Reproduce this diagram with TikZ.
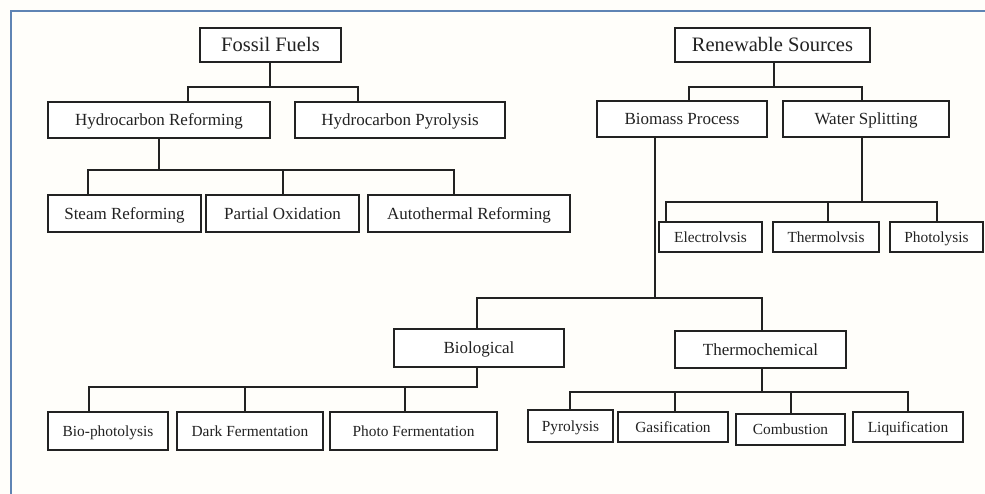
\documentclass[tikz,border=0pt]{standalone}
\usepackage{fontspec}
\setmainfont{Liberation Serif}
\definecolor{bordercol}{HTML}{5F84B4}
\definecolor{bgcol}{HTML}{FFFEFA}
\definecolor{inkcol}{HTML}{222222}
\tikzset{
  box/.style={draw=inkcol, line width=1.6pt, fill=white, inner sep=0pt, text=inkcol, text depth=0pt},
  top/.style={box, font=\fontsize{20.5}{22}\selectfont, text height=13.4pt},
  mid/.style={box, font=\fontsize{17}{19}\selectfont, text height=11.2pt},
  leaf/.style={box, font=\fontsize{15.4}{17}\selectfont, text height=10.1pt},
  conn/.style={draw=inkcol, line width=1.8pt}
}
\begin{document}
\begin{tikzpicture}[x=1pt,y=-1pt]
\useasboundingbox (0,0) rectangle (985,494);
\fill[bgcol] (0,0) rectangle (985,494);
\draw[bordercol, line width=2pt] (11,494) -- (11,11) -- (985,11);

% Fossil side
\node[top, minimum width=141pt, minimum height=34pt] (ff) at (270.5,45) {Fossil Fuels};
\node[mid, minimum width=222pt, minimum height=36pt] (hr) at (159,120) {Hydrocarbon Reforming};
\node[mid, minimum width=210pt, minimum height=36pt] (hp) at (400,120) {Hydrocarbon Pyrolysis};
\node[mid, minimum width=153pt, minimum height=37pt] (sr) at (124.5,213.5) {Steam Reforming};
\node[mid, minimum width=153pt, minimum height=37pt] (po) at (282.5,213.5) {Partial Oxidation};
\node[mid, minimum width=202pt, minimum height=37pt] (ar) at (469,213.5) {Autothermal Reforming};

% Renewable side
\node[top, minimum width=195pt, minimum height=34pt] (rs) at (772.5,45) {Renewable Sources};
\node[mid, minimum width=170pt, minimum height=36pt] (bp) at (682,119) {Biomass Process};
\node[mid, minimum width=166pt, minimum height=36pt] (ws) at (866,119) {Water Splitting};
\node[leaf, minimum width=103pt, minimum height=30pt] (el) at (710.5,237) {Electrolvsis};
\node[leaf, minimum width=106pt, minimum height=30pt] (th) at (826,237) {Thermolvsis};
\node[leaf, minimum width=93pt, minimum height=30pt] (ph) at (936.5,237) {Photolysis};
\node[mid, minimum width=170pt, minimum height=38pt] (bl) at (479,348) {Biological};
\node[mid, minimum width=171pt, minimum height=37pt] (tc) at (760.5,349.5) {Thermochemical};
\node[leaf, minimum width=120pt, minimum height=38pt] (bph) at (108,431) {Bio-photolysis};
\node[leaf, minimum width=146pt, minimum height=38pt] (df) at (250,431) {Dark Fermentation};
\node[leaf, minimum width=167pt, minimum height=38pt] (pf) at (413.5,431) {Photo Fermentation};
\node[leaf, minimum width=85pt, minimum height=32pt] (py) at (570.5,426) {Pyrolysis};
\node[leaf, minimum width=110pt, minimum height=30pt] (ga) at (673,427) {Gasification};
\node[leaf, minimum width=109pt, minimum height=31pt] (co) at (790.5,429.5) {Combustion};
\node[leaf, minimum width=110pt, minimum height=30pt] (lq) at (908,427) {Liquification};

% Connectors: fossil
\draw[conn] ([xshift=-0.5pt]ff.south) -- ++(0,24) -| ([xshift=29pt]hr.north);
\draw[conn] ([xshift=-0.5pt]ff.south) -- ++(0,24) -| ([xshift=-42pt]hp.north);
\draw[conn] (hr.south) -- ++(0,31) -| ([xshift=-36.5pt]sr.north);
\draw[conn] (hr.south) -- ++(0,31) -| ([xshift=0.5pt]po.north);
\draw[conn] (hr.south) -- ++(0,31) -| ([xshift=-15pt]ar.north);

% Connectors: renewable
\draw[conn] ([xshift=1.5pt]rs.south) -- ++(0,24) -| ([xshift=7pt]bp.north);
\draw[conn] ([xshift=1.5pt]rs.south) -- ++(0,24) -| ([xshift=-4pt]ws.north);
\draw[conn] ([xshift=-4pt]ws.south) -- ++(0,64) -| ([xshift=-44.5pt]el.north);
\draw[conn] ([xshift=-4pt]ws.south) -- ++(0,64) -| ([xshift=2pt]th.north);
\draw[conn] ([xshift=-4pt]ws.south) -- ++(0,64) -| ([xshift=0.5pt]ph.north);
\draw[conn] ([xshift=-27pt]bp.south) -- ++(0,160) -| ([xshift=-2pt]bl.north);
\draw[conn] ([xshift=-27pt]bp.south) -- ++(0,160) -| ([xshift=1.5pt]tc.north);
\draw[conn] ([xshift=-2pt]bl.south) -- ++(0,19) -| ([xshift=-19pt]bph.north);
\draw[conn] ([xshift=-2pt]bl.south) -- ++(0,19) -| ([xshift=-5pt]df.north);
\draw[conn] ([xshift=-2pt]bl.south) -- ++(0,19) -| ([xshift=-8.5pt]pf.north);
\draw[conn] ([xshift=1.5pt]tc.south) -- ++(0,23) -| ([xshift=-0.5pt]py.north);
\draw[conn] ([xshift=1.5pt]tc.south) -- ++(0,23) -| ([xshift=2pt]ga.north);
\draw[conn] ([xshift=1.5pt]tc.south) -- ++(0,23) -| ([xshift=0.5pt]co.north);
\draw[conn] ([xshift=1.5pt]tc.south) -- ++(0,23) -| (lq.north);
\end{tikzpicture}
\end{document}
